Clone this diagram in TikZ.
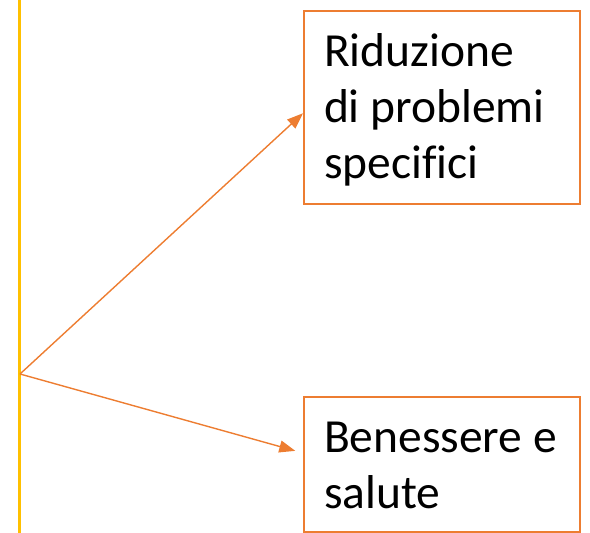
\documentclass[tikz,border=0pt]{standalone}
\usepackage{fontspec}
\setmainfont[Ligatures=NoCommon]{Carlito}
\usetikzlibrary{arrows.meta,calc}
\definecolor{accorange}{HTML}{ED7D31}
\definecolor{accyellow}{HTML}{FFC000}
\tikzset{
  textbox/.style={draw=accorange, line width=2pt, rectangle, anchor=north west,
    inner xsep=20pt, inner ysep=0pt, text height=55.5pt, align=left,
    font=\fontsize{47.5}{56}\selectfont},
  connector/.style={draw=accorange, line width=1.4pt,
    -{Triangle[length=16pt,width=12pt]}},
  spine/.style={draw=accyellow, line width=3pt}
}
\begin{document}
\begin{tikzpicture}[x=1pt,y=-1pt]
\useasboundingbox (0,0) rectangle (590,533);
\coordinate (top) at (19.5,0);
\coordinate (bot) at (19.5,533);
\draw[spine] (top) -- (bot);
\coordinate (o) at (20,374);
\node[textbox, text depth=138pt] (b1) at (303,9.5)
  {\parbox[t]{236pt}{\fontsize{47.5}{56}\selectfont Riduzione\\di problemi\\specifici}};
\node[textbox, text depth=79.5pt] (b2) at (303,396)
  {\parbox[t]{236pt}{\fontsize{47.5}{56}\selectfont Benessere e\\salute}};
\draw[connector] (o) -- ($(b1.west)+(0,6)$);
\draw[connector, shorten >=8pt] (o) -- ($(b2.west)+(0,-11.5)$);
\end{tikzpicture}
\end{document}
